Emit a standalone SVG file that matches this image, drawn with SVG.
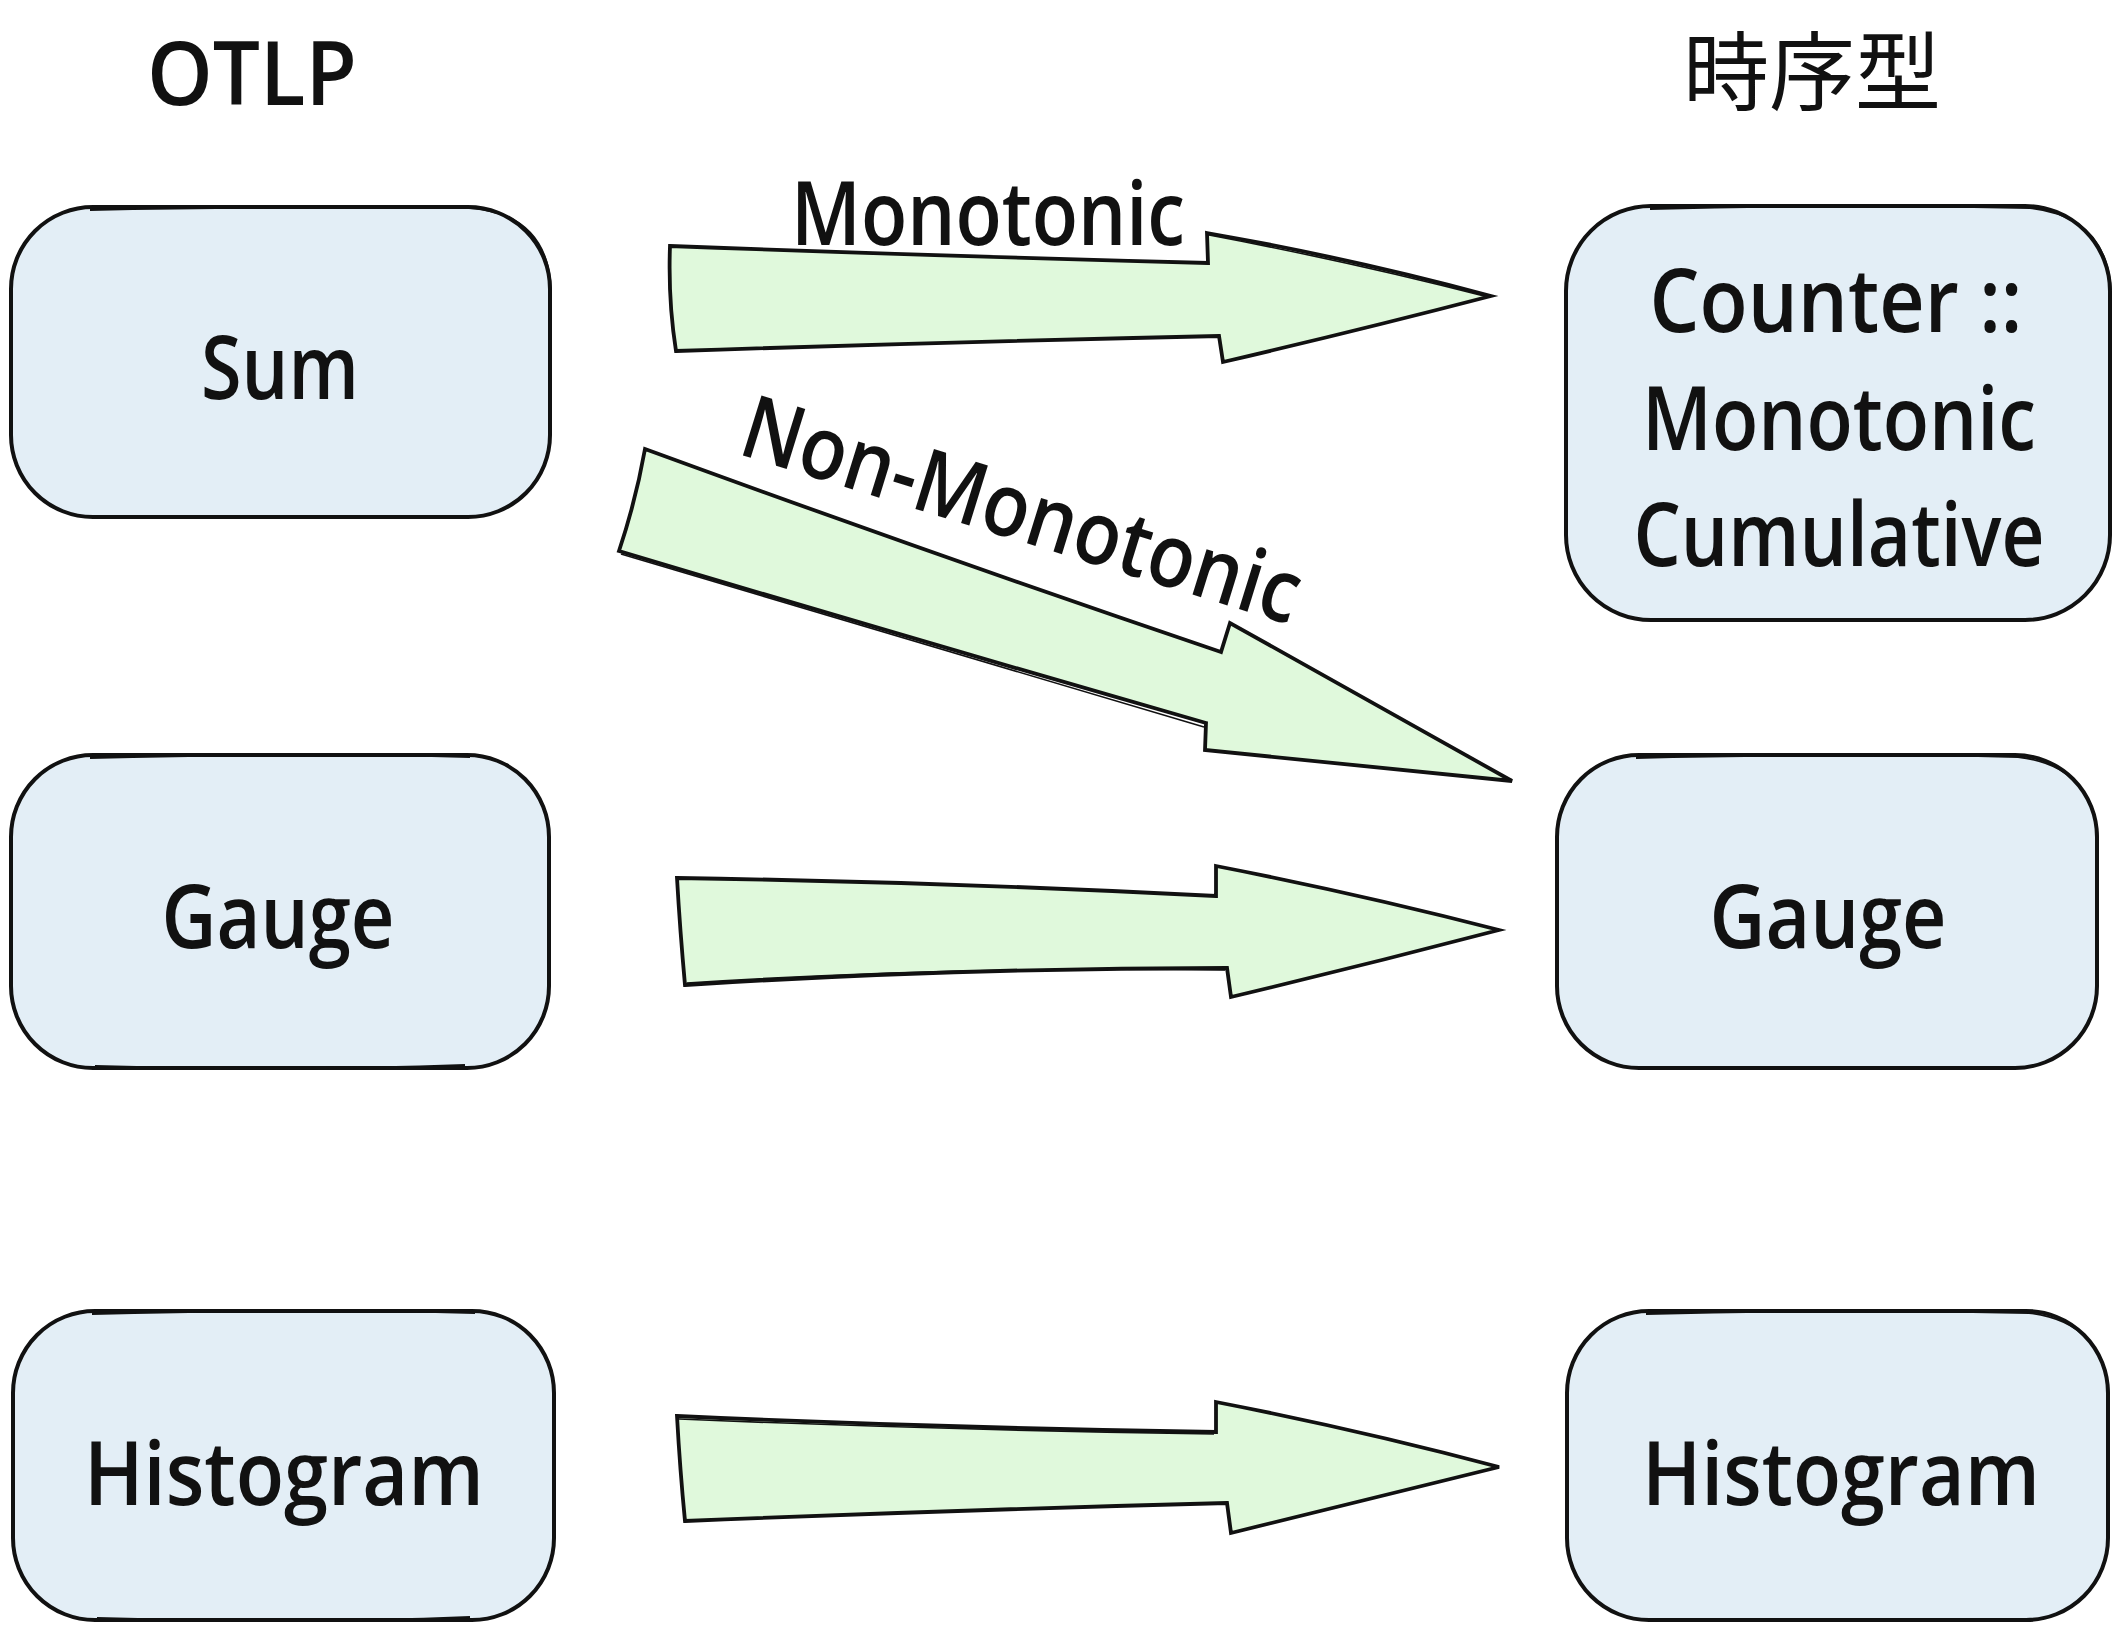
<svg xmlns="http://www.w3.org/2000/svg" width="2118" height="1632" viewBox="0 0 2118 1632">
<style>
.box{fill:#e3eef6;stroke:#111;stroke-width:4;stroke-linejoin:round}
.box2{fill:none;stroke:#111;stroke-width:1.8}
.arr{fill:#e0f9dc;stroke:#111;stroke-width:3.8;stroke-linejoin:miter}
.arr2{fill:none;stroke:#111;stroke-width:1.6}
.t{font-family:"Open Sans","Liberation Sans",sans-serif;font-size:88px;font-weight:600;fill:#111;text-anchor:middle}
.cjk{font-family:"Noto Sans CJK JP","Noto Sans CJK SC",sans-serif;font-size:86px;fill:#111;text-anchor:middle}
</style>
<rect width="2118" height="1632" fill="#fff"/>
<g id="title-otlp"><text class="t" x="252" y="105" textLength="210" lengthAdjust="spacingAndGlyphs">OTLP</text></g>
<g id="title-ts"><text class="cjk" x="1812" y="104">時序型</text></g>
<g id="connectors">
<g id="arrow-sum-counter">
<path class="arr" d="M670,246 Q940,256 1208,263 L1207,233 Q1350,258 1491,296 Q1360,330 1223,362 L1219,336 Q950,342 676,351 Q668,300 670,246 Z"/>
<path class="arr2" d="M1209,235 Q1352,262 1488,297"/>
</g>
<g id="arrow-sum-gauge">
<path class="arr" d="M645,449 Q935,555 1221,652 L1230,623 L1512,781 L1205,750 L1206,723 Q910,638 619,551 Q636,500 645,449 Z"/>
<path class="arr2" d="M621,554 Q910,641 1204,727"/>
</g>
<g id="arrow-gauge-gauge">
<path class="arr" d="M677,878 Q945,882 1216,896 L1216,866 Q1360,894 1499,930 Q1365,965 1231,997 L1227,968 Q955,968 685,985 Q680,930 677,878 Z"/>
<path class="arr2" d="M687,983 Q955,966 1225,970"/>
</g>
<g id="arrow-hist-hist">
<path class="arr" d="M677,1416 Q945,1428 1216,1432 L1216,1402 Q1360,1430 1499,1467 Q1365,1500 1231,1533 L1227,1503 Q955,1510 685,1521 Q680,1470 677,1416 Z"/>
<path class="arr2" d="M679,1419 Q945,1430 1214,1434"/>
</g>
<text class="t" x="988" y="245" textLength="394" lengthAdjust="spacingAndGlyphs">Monotonic</text>
<text class="t" x="1013" y="539" textLength="580" lengthAdjust="spacingAndGlyphs" transform="rotate(17.2 1013 539)">Non-Monotonic</text>
</g>
<g id="node-sum">
<rect class="box" x="11" y="207" width="539" height="310" rx="82" ry="82"/>
<path class="box2" d="M90,210 Q300,206 470,208 Q548,214 551,290"/>
<text class="t" x="280" y="399" textLength="158" lengthAdjust="spacingAndGlyphs">Sum</text>
</g>
<g id="node-gauge-l">
<rect class="box" x="11" y="755" width="538" height="313" rx="82" ry="82"/>
<path class="box2" d="M90,758 Q300,753 470,757 M95,1066 Q300,1071 465,1065"/>
<text class="t" x="278" y="948" textLength="233" lengthAdjust="spacingAndGlyphs">Gauge</text>
</g>
<g id="node-hist-l">
<rect class="box" x="13" y="1311" width="541" height="309" rx="82" ry="82"/>
<path class="box2" d="M92,1314 Q300,1309 475,1313 M97,1618 Q300,1624 470,1617"/>
<text class="t" x="284" y="1505" textLength="400" lengthAdjust="spacingAndGlyphs">Histogram</text>
</g>
<g id="node-counter">
<rect class="box" x="1566" y="206" width="544" height="414" rx="85" ry="85"/>
<path class="box2" d="M1650,209 Q1840,204 2030,208 Q2106,216 2111,290"/>
<text class="t" x="1836" y="332" textLength="373" lengthAdjust="spacingAndGlyphs">Counter ::</text>
<text class="t" x="1839" y="450" textLength="394" lengthAdjust="spacingAndGlyphs">Monotonic</text>
<text class="t" x="1839" y="566" textLength="411" lengthAdjust="spacingAndGlyphs">Cumulative</text>
</g>
<g id="node-gauge-r">
<rect class="box" x="1557" y="755" width="540" height="313" rx="82" ry="82"/>
<path class="box2" d="M1636,758 Q1840,753 2018,757 Q2094,766 2098,840"/>
<text class="t" x="1828" y="948" textLength="237" lengthAdjust="spacingAndGlyphs">Gauge</text>
</g>
<g id="node-hist-r">
<rect class="box" x="1567" y="1311" width="541" height="309" rx="82" ry="82"/>
<path class="box2" d="M1646,1314 Q1840,1309 2029,1313 Q2104,1322 2109,1395"/>
<text class="t" x="1841" y="1505" textLength="398" lengthAdjust="spacingAndGlyphs">Histogram</text>
</g>
</svg>
